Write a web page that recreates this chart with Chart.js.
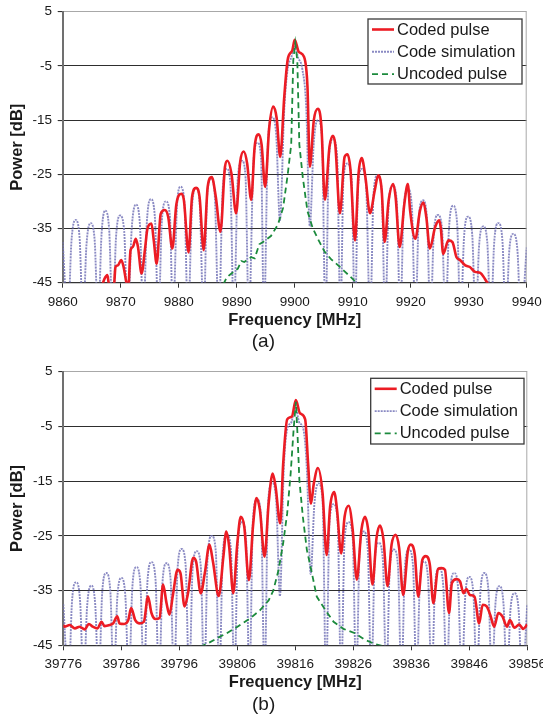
<!DOCTYPE html>
<html>
<head>
<meta charset="utf-8">
<script src="https://cdn.jsdelivr.net/npm/chart.js@4.4.1/dist/chart.umd.min.js"></script>
<style>
  html, body { margin: 0; padding: 0; background: #fff; }
  canvas { display: block; }
</style>
</head>
<body>
<canvas id="chart-a" width="543" height="358"></canvas>
<canvas id="chart-b" width="543" height="357"></canvas>
<script>
// Series names and axis ticks
const seriesNames = ['Coded pulse', 'Code simulation', 'Uncoded pulse'];
const powerTicks = [5, -5, -15, -25, -35, -45];
const freqTicksA = [9860, 9870, 9880, 9890, 9900, 9910, 9920, 9930, 9940];
const freqTicksB = [39776, 39786, 39796, 39806, 39816, 39826, 39836, 39846, 39856];

// (a) measured coded pulse [MHz, dB]
const codedPulseA = [
    [9866.8,-45.5],[9867.2,-44.3],[9867.7,-43.6],[9868.0,-45.5],[9868.8,-46],[9869.1,-42.1],[9869.5,-41.8],
    [9870.1,-40.8],[9870.5,-42.1],[9870.97,-44.9],[9871.3,-46],[9871.7,-39.0],[9872.1,-38.4],[9872.6,-36.9],
    [9872.98,-38.4],[9873.6,-43.3],[9874.2,-38.7],[9874.6,-35.1],[9875.3,-34.1],[9875.7,-37.2],[9876.2,-41.5],
    [9876.9,-32.3],[9877.6,-31.6],[9878.2,-32.9],[9878.9,-38.7],[9879.6,-30.5],[9880.5,-28.6],[9880.9,-29.8],
    [9881.7,-39.4],[9882.3,-29.2],[9883.0,-27.5],[9883.6,-29.2],[9884.3,-39.0],[9885.0,-27.3],[9885.7,-25.5],
    [9886.4,-29.2],[9887.2,-35.6],[9887.98,-23.6],[9888.4,-22.5],[9889.1,-24.9],[9889.9,-32.2],[9890.6,-22.7],
    [9891.2,-20.8],[9891.8,-23.0],[9892.5,-29.7],[9893.1,-19.9],[9893.8,-17.6],[9894.3,-19.6],[9894.9,-27.3],
    [9895.6,-16.5],[9896.3,-12.5],[9896.9,-14.7],[9897.5,-21.8],[9898.2,-10.7],[9898.8,-3.8],[9899.6,-2.1],
    [9900.0,-0.2],[9900.7,-2.4],[9901.6,-3.3],[9902.2,-8.8],[9902.6,-23.6],[9903.3,-15.0],[9904.0,-12.9],
    [9904.6,-16.1],[9905.2,-29.7],[9906.0,-19.9],[9906.6,-17.9],[9907.0,-19.6],[9907.8,-32.2],[9908.6,-21.8],
    [9909.1,-21.3],[9909.6,-24],[9910.4,-37.2],[9911.0,-25],[9911.55,-22.0],[9912.2,-25.6],[9912.98,-32.2],
    [9913.8,-28.0],[9914.4,-25.2],[9915.0,-28],[9915.5,-37.5],[9916.2,-29.8],[9917.0,-26.8],[9917.4,-29.2],
    [9918.1,-38.4],[9918.9,-30.5],[9919.5,-26.8],[9919.9,-31.7],[9920.8,-36.9],[9921.6,-31.7],[9922.2,-30.2],
    [9922.7,-33],[9923.3,-38.7],[9924.2,-34.8],[9924.9,-33.5],[9925.2,-35],[9925.6,-39.7],[9926.5,-37.2],
    [9927.2,-37.5],[9927.9,-40.3],[9928.5,-40.8],[9929.4,-41.8],[9930.2,-42.1],[9931.1,-43.0],[9932.0,-43.2],
    [9932.8,-44.3],[9933.5,-45.5]
];

// (a) code simulation
const codeSimA = [
    [9860,-37.5],[9860.9,-52],
    [9861.5,-37.5],[9862.2,-33.4],[9862.9,-36.5],[9863.5,-52],
    [9864.1,-38],[9864.8,-34.0],[9865.5,-37],[9866.1,-52],
    [9866.7,-36],[9867.3,-31.7],[9868.0,-35],[9868.6,-52],
    [9869.2,-36.5],[9869.9,-32.6],[9870.6,-35.5],[9871.2,-52],
    [9871.9,-35],[9872.6,-30.6],[9873.3,-34],[9873.9,-52],
    [9874.5,-34],[9875.2,-29.6],[9875.9,-33],[9876.5,-52],
    [9877.1,-33.5],[9877.8,-30.0],[9878.5,-33],[9879.0,-52],
    [9879.7,-31],[9880.3,-27.3],[9881.0,-30.5],[9881.6,-52],
    [9882.3,-31],[9883.0,-27.5],[9883.6,-30],[9884.3,-52],
    [9884.9,-29],[9885.6,-25.8],[9886.2,-28.5],[9886.9,-52],
    [9887.6,-27.5],[9888.3,-24.0],[9888.9,-26.5],[9889.5,-52],
    [9890.2,-25.5],[9890.9,-22.5],[9891.5,-25],[9892.1,-52],
    [9892.9,-22.5],[9893.6,-19.2],[9894.2,-22],[9894.7,-52],
    [9895.4,-18.5],[9896.1,-14.5],[9896.8,-17.5],[9897.45,-33.5],
    [9898.2,-13],[9898.8,-5.5],[9899.4,-3.5],[9900.0,-1.5],[9900.6,-3.5],[9901.3,-5.5],[9902.0,-13],[9902.6,-34.6],
    [9903.3,-19],[9904.0,-15.0],[9904.7,-18],[9905.3,-52],
    [9905.9,-22],[9906.6,-18.5],[9907.3,-21.5],[9907.9,-52],
    [9908.4,-26],[9909.1,-23.0],[9909.8,-26],[9910.4,-52],
    [9910.9,-27.5],[9911.6,-24.0],[9912.3,-27],[9913.0,-52],
    [9913.6,-28.5],[9914.3,-25.2],[9915.0,-28],[9915.6,-52],
    [9916.2,-30.5],[9916.9,-27.1],[9917.6,-30],[9918.2,-52],
    [9918.8,-31],[9919.5,-27.7],[9920.2,-31],[9920.8,-52],
    [9921.4,-33],[9922.1,-29.8],[9922.8,-33],[9923.4,-52],
    [9924.0,-35.5],[9924.7,-32.5],[9925.4,-35],[9926.0,-52],
    [9926.6,-35],[9927.3,-30.8],[9928.0,-34],[9928.6,-52],
    [9929.2,-36.5],[9929.9,-32.8],[9930.6,-36],[9931.2,-52],
    [9931.8,-38],[9932.5,-34.6],[9933.2,-37.5],[9933.8,-52],
    [9934.4,-37.5],[9935.1,-34.0],[9935.8,-37],[9936.4,-52],
    [9937.0,-39],[9937.7,-36.0],[9938.4,-39],[9939.0,-52],
    [9940,-38.5]
];

// (a) uncoded pulse
const uncodedPulseA = [
    [9887.7,-45.3],[9888.3,-44],[9889.1,-43.3],[9890.2,-42.4],[9890.8,-41],[9891.3,-41.2],[9892.5,-40.3],
    [9893.1,-40.5],[9893.9,-37.9],[9894.8,-37.3],[9895.9,-36.4],[9897.1,-34.3],[9898.0,-31.2],[9898.8,-25.0],
    [9899.4,-19.5],[9899.75,-4.0],[9900.1,-0.8],[9900.45,-4.0],[9900.8,-19.5],[9901.4,-25.6],[9902.2,-31.8],
    [9903.1,-34.9],[9903.9,-36.7],[9905.1,-39.2],[9906.3,-40.7],[9907.4,-41.7],[9908.6,-42.9],[9909.5,-43.8],
    [9910.2,-44.5],[9910.8,-45.3]
];

// (b) measured coded pulse
const codedPulseB = [
    [39776,-41.3],[39776.2,-41.6],[39777.1,-41.3],[39778.0,-41.9],[39778.8,-41.6],[39779.7,-42.1],[39780.4,-41.1],
    [39781.1,-41.6],[39781.9,-41.9],[39782.6,-40.7],[39783.1,-41.5],[39784.0,-41.3],[39784.6,-41.0],[39785.3,-39.7],
    [39785.7,-41.0],[39786.5,-41.1],[39787.2,-40.4],[39787.7,-38.2],[39788.4,-40.4],[39789.2,-41.0],[39789.9,-40.7],
    [39790.6,-36.1],[39791.2,-39.1],[39791.9,-40.2],[39792.6,-40.0],[39793.2,-33.9],[39793.8,-37.3],[39794.3,-39.4],
    [39794.9,-35.8],[39795.7,-31.2],[39796.2,-31.8],[39796.9,-37.9],[39797.5,-35.5],[39798.4,-29.0],[39798.9,-29.7],
    [39799.7,-35.5],[39800.4,-31.8],[39801.2,-26.6],[39801.8,-29.7],[39802.8,-36.0],[39803.6,-28.8],[39804.1,-24.2],
    [39804.6,-27.0],[39805.3,-35.5],[39806.0,-26.4],[39806.6,-21.5],[39807.2,-23.3],[39808.0,-33.1],[39808.7,-23.3],
    [39809.3,-18.1],[39809.9,-20.3],[39810.7,-28.8],[39811.4,-19.1],[39812.1,-13.6],[39812.6,-16.0],[39813.4,-22.7],
    [39813.9,-12.0],[39814.6,-3.7],[39815.4,-3.2],[39816.1,-0.2],[39816.8,-2.6],[39817.7,-3.7],[39818.2,-11.7],
    [39818.7,-19.1],[39819.2,-15.4],[39819.9,-12.6],[39820.7,-17.2],[39821.4,-28.5],[39822.0,-19.7],[39822.7,-17.0],
    [39823.2,-20.3],[39823.9,-28.2],[39824.5,-21.5],[39825.2,-19.5],[39825.9,-23.9],[39826.6,-33.0],[39827.4,-23.9],
    [39828.0,-21.5],[39828.6,-24.2],[39829.3,-33.9],[39830.0,-25.4],[39830.6,-23.1],[39831.2,-25.7],[39831.9,-34.2],
    [39832.6,-26.6],[39833.3,-24.8],[39833.9,-27.2],[39834.6,-35.8],[39835.4,-27.8],[39835.9,-26.6],[39836.6,-28.4],
    [39837.2,-36.1],[39837.9,-29.4],[39838.5,-28.7],[39839.2,-30.3],[39839.8,-37.3],[39840.6,-31.1],[39841.2,-30.9],
    [39841.8,-31.2],[39842.5,-39.1],[39843.0,-33.6],[39843.8,-32.9],[39844.4,-33.3],[39845.0,-35.5],[39845.5,-34.7],
    [39846.1,-35.8],[39846.9,-36.1],[39847.7,-41.0],[39848.3,-37.6],[39849.0,-37.9],[39849.6,-39.4],[39850.3,-41.6],
    [39851.0,-39.1],[39851.7,-39.7],[39852.5,-41.6],[39853.0,-40.4],[39853.8,-41.8],[39854.6,-41.2],[39855.3,-42.0],
    [39856,-41.2]
];

// (b) code simulation
const codeSimB = [
    [39776,-37.5],[39776.9,-52],
    [39777.5,-37],[39778.2,-33.5],[39778.9,-37],[39779.5,-52],
    [39780.1,-38],[39780.8,-34.1],[39781.5,-37.5],[39782.1,-52],
    [39782.7,-35.5],[39783.4,-31.8],[39784.1,-35],[39784.7,-52],
    [39785.3,-36.5],[39786.0,-32.7],[39786.7,-36],[39787.3,-52],
    [39787.9,-34.5],[39788.6,-30.7],[39789.3,-34],[39789.9,-52],
    [39790.5,-33.5],[39791.2,-29.8],[39791.9,-33],[39792.5,-52],
    [39793.1,-33.5],[39793.8,-30.0],[39794.5,-33],[39795.1,-52],
    [39795.7,-31],[39796.4,-27.4],[39797.1,-30.5],[39797.7,-52],
    [39798.3,-31],[39799.0,-27.8],[39799.7,-30.5],[39800.3,-52],
    [39800.9,-28.5],[39801.6,-25.0],[39802.3,-28],[39802.9,-52],
    [39803.5,-28],[39804.2,-24.8],[39804.9,-27.5],[39805.5,-52],
    [39806.1,-26],[39806.8,-22.5],[39807.5,-25.5],[39808.1,-52],
    [39808.7,-22],[39809.4,-18.3],[39810.1,-21.5],[39810.7,-52],
    [39811.3,-19],[39812.0,-15.3],[39812.7,-18.5],[39813.35,-36],
    [39814.0,-13],[39814.6,-5.5],[39815.3,-4.3],[39816.0,-1.6],[39816.7,-4.3],[39817.4,-5.5],[39818.0,-13],[39818.65,-32],
    [39819.3,-19],[39820.0,-15.4],[39820.7,-18.5],[39821.3,-52],
    [39821.9,-22.5],[39822.6,-19.2],[39823.3,-22.5],[39823.9,-52],
    [39824.5,-25.5],[39825.2,-22.5],[39825.9,-25.5],[39826.5,-52],
    [39827.1,-27.5],[39827.8,-24.2],[39828.5,-27.5],[39829.1,-52],
    [39829.7,-29.5],[39830.4,-26.3],[39831.1,-29.5],[39831.7,-52],
    [39832.3,-30.5],[39833.0,-27.5],[39833.7,-30.5],[39834.3,-52],
    [39834.9,-30.5],[39835.6,-27.5],[39836.3,-30.5],[39836.9,-52],
    [39837.5,-33],[39838.2,-29.7],[39838.9,-33],[39839.5,-52],
    [39840.1,-34],[39840.8,-30.9],[39841.5,-34],[39842.1,-52],
    [39842.7,-35],[39843.4,-31.8],[39844.1,-35],[39844.7,-52],
    [39845.3,-36],[39846.0,-32.5],[39846.7,-35.5],[39847.3,-52],
    [39847.9,-35.5],[39848.6,-31.8],[39849.3,-35],[39849.9,-52],
    [39850.5,-37.5],[39851.2,-34.2],[39851.9,-37.5],[39852.5,-52],
    [39853.1,-38.5],[39853.8,-35.5],[39854.5,-38.5],[39855.1,-52],
    [39856,-37.5]
];

// (b) uncoded pulse
const uncodedPulseB = [
    [39799.6,-45.3],[39801.0,-44.6],[39802.7,-43.6],[39804.0,-42.9],[39805.9,-41.7],[39808.2,-40.1],[39809.9,-38.6],
    [39811.4,-36.8],[39812.2,-35.0],[39813.1,-31.3],[39813.9,-26.4],[39814.6,-20.9],[39815.2,-13.6],[39815.7,-5.7],
    [39816.1,-0.5],[39816.4,-6.9],[39816.7,-14.8],[39817.3,-21.5],[39818.0,-27.6],[39818.6,-30.5],[39819.7,-36.1],
    [39821.2,-38.6],[39822.6,-40.7],[39824.3,-42.0],[39826.3,-42.8],[39828.0,-44.0],[39829.8,-44.8],[39831.8,-45.3]
];

Chart.defaults.font.family = "'Liberation Sans', Arial, sans-serif";
Chart.defaults.color = '#1a1a1a';

const toPoints = pairs => pairs.map(p => ({ x: p[0], y: p[1] }));

// Legend box drawn inside the plot area, plus the light right-hand frame line
const frameLegend = {
    id: 'frameLegend',
    beforeDatasetsDraw(chart) {
        const { ctx, chartArea } = chart;
        ctx.save();
        ctx.strokeStyle = '#a8a8a8';
        ctx.lineWidth = 1;
        ctx.beginPath();
        ctx.moveTo(chartArea.right - 0.5, chartArea.top);
        ctx.lineTo(chartArea.right - 0.5, chartArea.bottom);
        ctx.stroke();
        ctx.restore();
    },
    afterDatasetsDraw(chart, args, opts) {
        const { ctx, chartArea } = chart;
        const x = chartArea.right - opts.right - opts.width;
        const y = chartArea.top + opts.top;
        ctx.save();
        ctx.fillStyle = '#fff';
        ctx.fillRect(x, y, opts.width, opts.height);
        ctx.strokeStyle = '#3a3a3a';
        ctx.lineWidth = 1.3;
        ctx.strokeRect(x, y, opts.width, opts.height);
        ctx.font = "16.5px 'Liberation Sans', Arial, sans-serif";
        ctx.textBaseline = 'middle';
        chart.data.datasets.forEach((ds, i) => {
            const yy = y + 10.5 + i * 22.3;
            ctx.strokeStyle = ds.borderColor;
            ctx.lineWidth = ds.borderWidth;
            ctx.setLineDash(ds.borderDash || []);
            ctx.beginPath();
            ctx.moveTo(x + 4, yy);
            ctx.lineTo(x + 26, yy);
            ctx.stroke();
            ctx.setLineDash([]);
            ctx.fillStyle = '#1a1a1a';
            ctx.fillText(ds.label, x + 29, yy + 0.5);
        });
        ctx.restore();
    }
};

function makeChart(canvasId, s) {
    const ctx = document.getElementById(canvasId);
    return new Chart(ctx, {
        type: 'line',
        data: {
            datasets: [
                {
                    label: seriesNames[0],
                    data: toPoints(s.coded),
                    borderColor: '#ec1c24',
                    borderWidth: 2.6,
                    cubicInterpolationMode: 'monotone',
                    order: 1
                },
                {
                    label: seriesNames[1],
                    data: toPoints(s.sim),
                    borderColor: 'rgba(118,118,184,0.85)',
                    borderWidth: 1.9,
                    borderDash: [2, 1],
                    cubicInterpolationMode: 'monotone',
                    order: 2
                },
                {
                    label: seriesNames[2],
                    data: toPoints(s.uncoded),
                    borderColor: '#1b8a3c',
                    borderWidth: 1.8,
                    borderDash: [6, 4],
                    order: 0
                }
            ]
        },
        options: {
            responsive: false,
            animation: false,
            devicePixelRatio: 1,
            events: [],
            elements: {
                point: { radius: 0 },
                line: { tension: 0, fill: false }
            },
            datasets: { line: { clip: 0 } },
            layout: {
                padding: { top: s.padTop, right: s.padRight, bottom: s.padBottom, left: 0 }
            },
            scales: {
                x: {
                    type: 'linear',
                    min: s.ticks[0],
                    max: s.ticks[s.ticks.length - 1],
                    afterBuildTicks: scale => { scale.ticks = s.ticks.map(v => ({ value: v })); },
                    afterFit: scale => {
                        scale.height = 47.2;
                        scale.paddingLeft = 0;
                        scale.paddingRight = 0;
                    },
                    ticks: {
                        autoSkip: false,
                        maxRotation: 0,
                        padding: 6.2,
                        font: { size: 13.5 },
                        color: '#1a1a1a',
                        callback: v => String(v)
                    },
                    grid: {
                        drawOnChartArea: false,
                        drawTicks: true,
                        tickLength: 5,
                        tickColor: '#333'
                    },
                    border: { color: '#333', width: 1.3 },
                    title: {
                        display: true,
                        text: 'Frequency [MHz]',
                        font: { size: 16.5, weight: 'bold' },
                        color: '#1a1a1a',
                        padding: { top: 0, bottom: 0 }
                    }
                },
                y: {
                    type: 'linear',
                    min: -45,
                    max: 5,
                    afterBuildTicks: scale => { scale.ticks = powerTicks.map(v => ({ value: v })); },
                    afterFit: scale => {
                        scale.width = s.yWidth;
                        scale.paddingTop = 0;
                        scale.paddingBottom = 0;
                    },
                    ticks: {
                        padding: 5.7,
                        font: { size: 13.5 },
                        color: '#1a1a1a',
                        callback: v => String(v)
                    },
                    grid: {
                        color: c => (c.tick && c.tick.value === 5 ? '#a8a8a8' : '#2e2e2e'),
                        lineWidth: 1.1,
                        tickLength: 5,
                        tickColor: '#333'
                    },
                    border: { color: '#707070', width: 2 },
                    title: {
                        display: true,
                        text: 'Power [dB]',
                        font: { size: 16.5, weight: 'bold' },
                        color: '#1a1a1a',
                        padding: { top: 8, bottom: 0 }
                    }
                }
            },
            plugins: {
                legend: { display: false },
                tooltip: { enabled: false },
                title: {
                    display: true,
                    position: 'bottom',
                    text: s.caption,
                    font: { size: 19, weight: 'normal', lineHeight: 1 },
                    color: '#1a1a1a',
                    padding: { top: s.captionPad, bottom: 0 }
                },
                frameLegend: s.legend
            }
        },
        plugins: [frameLegend]
    });
}

makeChart('chart-a', {
    coded: codedPulseA, sim: codeSimA, uncoded: uncodedPulseA, ticks: freqTicksA,
    caption: '(a)', captionPad: 2.6,
    padTop: 11.7, padRight: 16.3, padBottom: 6.5, yWidth: 62.7,
    legend: { right: 4.7, top: 7.3, width: 154, height: 65 }
});

makeChart('chart-b', {
    coded: codedPulseB, sim: codeSimB, uncoded: uncodedPulseB, ticks: freqTicksB,
    caption: '(b)', captionPad: 3.0,
    padTop: 13.7, padRight: 15.7, padBottom: 0.5, yWidth: 63.3,
    legend: { right: 3.3, top: 6.6, width: 153.3, height: 65.7 }
});
</script>
</body>
</html>
